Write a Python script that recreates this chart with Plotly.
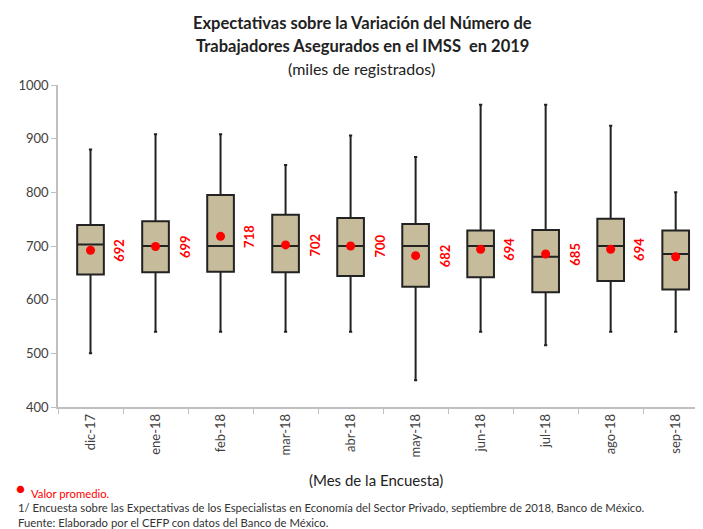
import plotly.graph_objects as go

categories = ["dic-17", "ene-18", "feb-18", "mar-18", "abr-18", "may-18", "jun-18", "jul-18", "ago-18", "sep-18"]
whisker_low = [500, 540, 540, 540, 540, 450, 540, 515, 540, 540]
q1 = [647, 651, 652, 651, 644, 624, 642, 614, 635, 619]
median = [703, 700, 700, 700, 700, 700, 700, 680, 700, 685]
q3 = [739, 746, 795, 758, 752, 741, 729, 730, 751, 729]
whisker_high = [880, 908, 908, 851, 906, 866, 963, 963, 924, 800]
means = [692, 699, 718, 702, 700, 682, 694, 685, 694, 680]

FONT = "Lato"
OFF = 8  # page body margin
W, H = 703 - OFF, 529 - OFF
L, R, T, B = 58 - OFF, 0, 85 - OFF, H - (407 - OFF)

fig = go.Figure()
fig.add_trace(go.Box(
    x=categories, q1=q1, median=median, q3=q3,
    lowerfence=whisker_low, upperfence=whisker_high,
    fillcolor="#C6BB9A", line=dict(color="#222222", width=2),
    width=0.41, whiskerwidth=0.12, boxpoints=False, showlegend=False,
    hoverinfo="skip",
))
fig.add_trace(go.Scatter(
    x=categories, y=means, mode="markers",
    marker=dict(color="#FF0000", size=9), showlegend=False, hoverinfo="skip",
))

annotations = []
for c, m in zip(categories, means):
    annotations.append(dict(
        x=c, y=m, xref="x", yref="y", text=f"<b>{m}</b>", textangle=-90,
        showarrow=False, xshift=29, font=dict(family=FONT, size=13, color="#FF0000"),
    ))


def px_ann(xp, yp, text, size, color, anchor="left"):
    # xp, yp: pixel position in the screenshot
    fx, fy = xp - OFF, yp - OFF
    return dict(
        x=(fx - L) / (W - L - R), y=(H - fy - B) / (H - T - B),
        xref="paper", yref="paper", text=text, showarrow=False,
        xanchor=anchor, yanchor="middle", font=dict(family=FONT, size=size, color=color),
    )


annotations.append(px_ann(362, 23, "<b>Expectativas sobre la Variación del Número de</b>", 16.5, "#222222", "center"))
annotations.append(px_ann(362, 46, "<b>Trabajadores Asegurados en el IMSS  en 2019</b>", 16.5, "#222222", "center"))
annotations.append(px_ann(361, 69, "(miles de registrados)", 16, "#222222", "center"))
annotations.append(px_ann(376, 480, "(Mes de la Encuesta)", 15, "#222222", "center"))
annotations.append(px_ann(14, 488, "●", 15, "#FF0000"))
annotations.append(px_ann(29, 493, "Valor promedio.", 11.3, "#FF0000"))
annotations.append(px_ann(16, 507, "1/ Encuesta sobre las Expectativas de los Especialistas en Economía del Sector Privado, septiembre de 2018, Banco de México.", 11.3, "#333333"))
annotations.append(px_ann(16, 522, "Fuente: Elaborado por el CEFP con datos del Banco de México.", 11.3, "#333333"))

fig.update_layout(
    width=W, height=H,
    margin=dict(l=L, r=R, t=T, b=B),
    paper_bgcolor="white", plot_bgcolor="white",
    font=dict(family=FONT, size=13, color="#404040"),
    annotations=annotations,
    xaxis=dict(
        type="category", range=[-0.5, 9.42], showline=True, linecolor="#BFBFBF", linewidth=1.5,
        ticks="outside", tickson="boundaries", ticklen=5, tickcolor="#BFBFBF",
        tickangle=-90, tickfont=dict(family=FONT, size=13, color="#404040"), showgrid=False,
    ),
    yaxis=dict(
        range=[400, 1000], dtick=100, showline=True, linecolor="#BFBFBF", linewidth=1.5,
        ticks="outside", ticklen=5, tickcolor="#BFBFBF", showgrid=False, zeroline=False,
        tickfont=dict(family=FONT, size=13, color="#404040"),
    ),
)

fig.write_html("out.html")
